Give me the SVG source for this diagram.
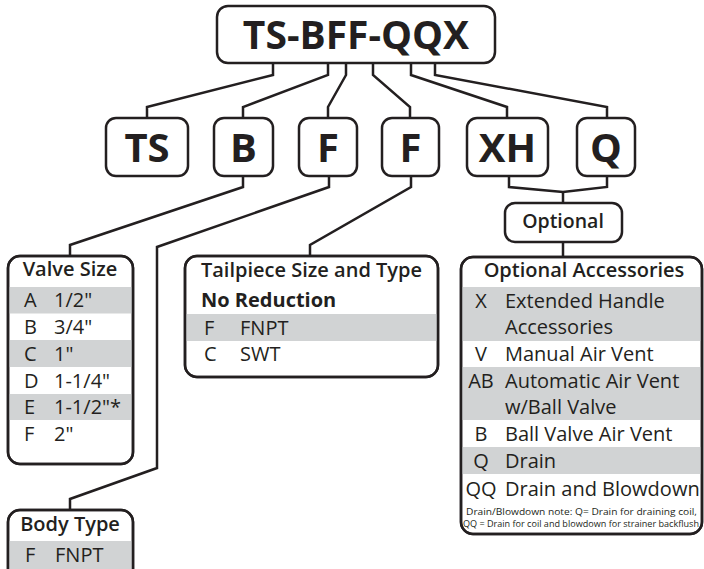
<svg xmlns="http://www.w3.org/2000/svg" width="704" height="569" viewBox="0 0 704 569">
<style>
.box{fill:#ffffff;stroke:#231f20;stroke-width:2.5}
.frame{fill:none;stroke:#231f20;stroke-width:2.5}
.band{fill:#d1d3d4}
.wire{fill:none;stroke:#231f20;stroke-width:2.5;stroke-linejoin:miter}
text{font-family:"Open Sans","Noto Sans","DejaVu Sans",sans-serif;fill:#231f20}
.big{font-weight:700;font-size:40px;text-anchor:middle}
.title{font-weight:700;font-size:39px;text-anchor:middle}
.hdr{font-weight:600;font-size:20px;text-anchor:middle}
.row{font-size:20px}
.mid{text-anchor:middle}
.note{font-size:9px}
</style>
<rect width="704" height="569" fill="#ffffff"/>
<g id="connectors">
<path class="wire" d="M273,63 V75 L147,107 V118"/>
<path class="wire" d="M328,63 V75 L243,107 V118"/>
<path class="wire" d="M346,63 V75 L328,107 V118"/>
<path class="wire" d="M373,63 V75 L410,107 V118"/>
<path class="wire" d="M411,63 V75 L507,107 V118"/>
<path class="wire" d="M435,63 V75 L607,107 V118"/>
<path class="wire" d="M243,176 V187 L70,245 V257"/>
<path class="wire" d="M329,176 V187 L157,247 V468 L70,499 V510"/>
<path class="wire" d="M411,176 V187 L310,245 V256"/>
<path class="wire" d="M509,176 V187 L563,192 L607,187 V176"/>
<path class="wire" d="M563,192 V203"/>
<path class="wire" d="M563,242 V257"/>
</g>
<g id="main">
<rect class="box" x="217" y="6" width="278" height="57" rx="11"/>
<text class="title" x="356" y="49">TS-BFF-QQX</text>
</g>
<g id="ts">
<rect class="box" x="106" y="118" width="82" height="58" rx="10"/>
<text class="big" x="147" y="162">TS</text>
</g>
<g id="b">
<rect class="box" x="214" y="118" width="59" height="58" rx="10"/>
<text class="big" x="243.5" y="162">B</text>
</g>
<g id="f1">
<rect class="box" x="299" y="118" width="58" height="58" rx="10"/>
<text class="big" x="328" y="162">F</text>
</g>
<g id="f2">
<rect class="box" x="382" y="118" width="57" height="58" rx="10"/>
<text class="big" x="410.5" y="162">F</text>
</g>
<g id="xh">
<rect class="box" x="467" y="118" width="81" height="58" rx="10"/>
<text class="big" x="507.5" y="162">XH</text>
</g>
<g id="q">
<rect class="box" x="577" y="118" width="58" height="58" rx="10"/>
<text class="big" x="606" y="162">Q</text>
</g>
<g id="optional">
<rect class="box" x="505" y="203" width="117" height="39" rx="10"/>
<text class="hdr" x="563" y="228" style="font-size:19.5px">Optional</text>
</g>
<g id="valve-size">
<rect class="box" x="8" y="256" width="125" height="208" rx="12"/>
<rect class="band" x="8" y="287" width="125" height="26.5"/>
<rect class="band" x="8" y="340" width="125" height="27"/>
<rect class="band" x="8" y="394" width="125" height="26"/>
<rect class="frame" x="8" y="256" width="125" height="208" rx="12"/>
<text class="hdr" x="70" y="276">Valve Size</text>
<text class="row" x="24" y="307">A</text><text class="row" x="54" y="307">1/2"</text>
<text class="row" x="24" y="334">B</text><text class="row" x="54" y="334">3/4"</text>
<text class="row" x="24" y="360.5">C</text><text class="row" x="54" y="360.5">1"</text>
<text class="row" x="24" y="387.5">D</text><text class="row" x="54" y="387.5">1-1/4"</text>
<text class="row" x="24" y="414">E</text><text class="row" x="54" y="414">1-1/2"*</text>
<text class="row" x="24" y="440.5">F</text><text class="row" x="54" y="440.5">2"</text>
</g>
<g id="tailpiece">
<rect class="box" x="185" y="256" width="253" height="121" rx="12"/>
<rect class="band" x="185" y="314" width="253" height="27"/>
<rect class="frame" x="185" y="256" width="253" height="121" rx="12"/>
<text class="hdr" x="311.5" y="277">Tailpiece Size and Type</text>
<text class="row" x="201" y="307" style="font-weight:700">No Reduction</text>
<text class="row" x="204" y="334.5">F</text><text class="row" x="240" y="334.5">FNPT</text>
<text class="row" x="204" y="361">C</text><text class="row" x="240" y="361">SWT</text>
</g>
<g id="optional-accessories">
<rect class="box" x="461" y="257" width="241" height="277" rx="12"/>
<rect class="band" x="461" y="287" width="241" height="54"/>
<rect class="band" x="461" y="367" width="241" height="53"/>
<rect class="band" x="461" y="447" width="241" height="27"/>
<rect class="frame" x="461" y="257" width="241" height="277" rx="12"/>
<text class="hdr" x="584" y="277">Optional Accessories</text>
<text class="row mid" x="481" y="308">X</text><text class="row" x="505" y="308">Extended Handle</text>
<text class="row" x="505" y="334">Accessories</text>
<text class="row mid" x="481" y="361">V</text><text class="row" x="505" y="361">Manual Air Vent</text>
<text class="row mid" x="481" y="388">AB</text><text class="row" x="505" y="388">Automatic Air Vent</text>
<text class="row" x="505" y="414">w/Ball Valve</text>
<text class="row mid" x="481" y="441">B</text><text class="row" x="505" y="441">Ball Valve Air Vent</text>
<text class="row mid" x="481" y="468">Q</text><text class="row" x="505" y="468">Drain</text>
<text class="row mid" x="481" y="496">QQ</text><text class="row" x="505" y="496">Drain and Blowdown</text>
<text class="note" x="466" y="515" textLength="231" lengthAdjust="spacingAndGlyphs">Drain/Blowdown note: Q= Drain for draining coil,</text>
<text class="note" x="463" y="527" textLength="236" lengthAdjust="spacingAndGlyphs">QQ = Drain for coil and blowdown for strainer backflush</text>
</g>
<g id="body-type">
<rect class="box" x="8" y="510" width="125" height="80" rx="12"/>
<rect class="band" x="8" y="541" width="125" height="49"/>
<rect class="frame" x="8" y="510" width="125" height="80" rx="12"/>
<text class="hdr" x="70" y="531">Body Type</text>
<text class="row" x="25" y="562">F</text><text class="row" x="55" y="562">FNPT</text>
</g>
</svg>
